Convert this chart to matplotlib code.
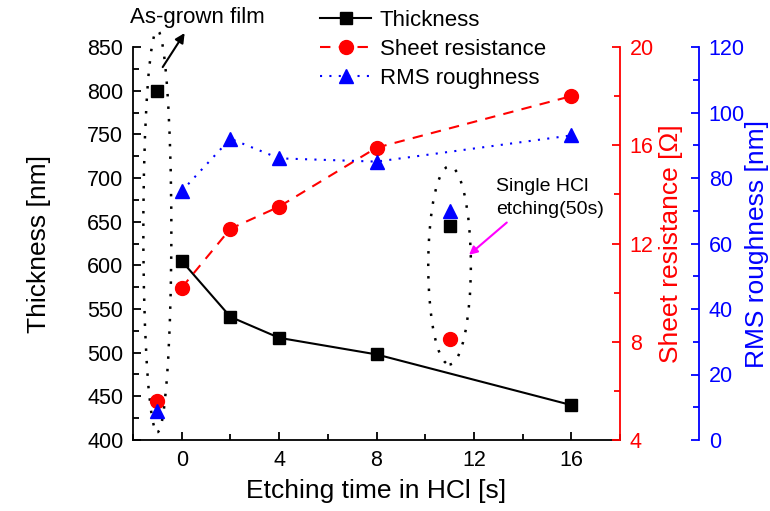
import matplotlib
matplotlib.use("Agg")
import matplotlib.pyplot as plt
from matplotlib.patches import Ellipse
from matplotlib.lines import Line2D
from matplotlib.ticker import MultipleLocator

plt.rcParams["font.family"] = ["Liberation Sans", "DejaVu Sans"]

# etched series
etch_time = [0, 2, 4, 8, 16]
thickness = [605, 541, 517, 498, 440]
sheet_res = [10.2, 12.6, 13.5, 15.9, 18.0]
rms = [76, 92, 86, 85, 93]

# as-grown film (plotted at t = -1)
grown_time = -1
grown_thickness = 800
grown_res = 5.6
grown_rms = 9

# single HCl etching (50s), plotted at t = 11
single_time = 11
single_thickness = 645
single_res = 8.1
single_rms = 70

RED = "#ff0000"
BLUE = "#0000ff"
FS_TICK = 15.5
FS_LABEL = 19

fig = plt.figure(figsize=(7.7, 5.11), dpi=100)
ax = fig.add_axes([133 / 770, 1 - 440 / 511, 487 / 770, 393 / 511])
ax2 = ax.twinx()
ax3 = ax.twinx()

# thickness
ax.plot(etch_time, thickness, "-", color="black", lw=1.5, marker="s", ms=8.5)
ax.plot([grown_time], [grown_thickness], "s", color="black", ms=8.5)
ax.plot([single_time], [single_thickness], "s", color="black", ms=8.5)

# sheet resistance
ax2.plot(etch_time, sheet_res, color=RED, lw=1.5, ls=(0, (5, 4)), marker="o", ms=10)
ax2.plot([grown_time], [grown_res], "o", color=RED, ms=10)
ax2.plot([single_time], [single_res], "o", color=RED, ms=10)

# roughness
ax3.plot(etch_time, rms, color=BLUE, lw=1.5, ls=(0, (1, 3.5)), marker="^", ms=10)
ax3.plot([grown_time], [grown_rms], "^", color=BLUE, ms=10)
ax3.plot([single_time], [single_rms], "^", color=BLUE, ms=10)

ax.set_xlim(-2, 18)
ax.set_ylim(400, 850)
ax2.set_ylim(4, 20)
ax3.set_ylim(0, 120)

ax.set_xticks([0, 4, 8, 12, 16])
ax.xaxis.set_minor_locator(MultipleLocator(2))
ax.yaxis.set_major_locator(MultipleLocator(50))
ax.yaxis.set_minor_locator(MultipleLocator(25))
ax2.yaxis.set_major_locator(MultipleLocator(4))
ax2.yaxis.set_minor_locator(MultipleLocator(2))
ax3.yaxis.set_major_locator(MultipleLocator(20))
ax3.yaxis.set_minor_locator(MultipleLocator(10))

for a in (ax, ax2, ax3):
    a.spines["top"].set_visible(False)
    for s in a.spines.values():
        s.set_linewidth(1.3)
ax.spines["right"].set_visible(False)
ax2.spines["right"].set_color(RED)
ax3.spines["right"].set_color(BLUE)
ax3.spines["right"].set_position(("outward", 79 * 0.72))
for a in (ax2, ax3):
    a.spines["left"].set_visible(False)
    a.spines["bottom"].set_visible(False)

ax.tick_params(which="both", direction="in", labelsize=FS_TICK, width=1.3,
               right=False, top=False, pad=7)
ax.tick_params(which="major", length=6)
ax.tick_params(which="minor", length=4)
ax2.tick_params(axis="y", which="both", direction="in", colors=RED,
                labelsize=FS_TICK, width=1.3, pad=7)
ax2.tick_params(which="major", length=6)
ax2.tick_params(which="minor", length=4)
ax3.tick_params(axis="y", which="both", direction="in", colors=BLUE,
                labelsize=FS_TICK, width=1.3, pad=7)
ax3.tick_params(which="major", length=6)
ax3.tick_params(which="minor", length=4)

ax.set_xlabel("Etching time in HCl [s]", fontsize=FS_LABEL, labelpad=6)
ax.set_ylabel("Thickness [nm]", fontsize=FS_LABEL, labelpad=26)
ax2.set_ylabel("Sheet resistance [\u03a9]", fontsize=FS_LABEL, color=RED, labelpad=4)
ax3.set_ylabel("RMS roughness [nm]", fontsize=FS_LABEL, color=BLUE, labelpad=0)

# dotted ellipses
ax.add_patch(Ellipse((-1.0, 639), 1.15, 460, fill=False, ls=(0, (1, 4)),
                     lw=1.8, color="black", clip_on=False))
ax.add_patch(Ellipse((11.0, 600), 1.75, 227, fill=False, ls=(0, (1, 4)),
                     lw=1.8, color="black", clip_on=False))

ax.annotate("", xy=(0.12, 866), xytext=(-0.78, 827),
            arrowprops=dict(arrowstyle="-|>", color="black", lw=1.5,
                            mutation_scale=14, shrinkA=0, shrinkB=0),
            annotation_clip=False)
fig.text(130 / 770, 1 - 17 / 511, "As-grown film", fontsize=16,
         ha="left", va="center")

ax.annotate("", xy=(11.8, 612), xytext=(13.35, 649),
            arrowprops=dict(arrowstyle="-|>", color="#ff00ff", lw=1.5,
                            mutation_scale=12, shrinkA=0, shrinkB=0))
ax.text(12.9, 677, "Single HCl\netching(50s)", fontsize=14, ha="left",
        va="center", linespacing=1.45)

handles = [
    Line2D([], [], color="black", lw=1.5, marker="s", ms=8.5),
    Line2D([], [], color=RED, lw=1.5, ls=(0, (5, 4)), marker="o", ms=10),
    Line2D([], [], color=BLUE, lw=1.5, ls=(0, (1, 3.5)), marker="^", ms=10),
]
fig.legend(handles, ["Thickness", "Sheet resistance", "RMS roughness"],
           loc="upper left", bbox_to_anchor=(320 / 770, 1 - 10 / 511),
           frameon=False, fontsize=16, handlelength=2.3, handletextpad=0.4,
           labelspacing=0.36, borderpad=0, borderaxespad=0)

fig.savefig("out.png", dpi=100)
